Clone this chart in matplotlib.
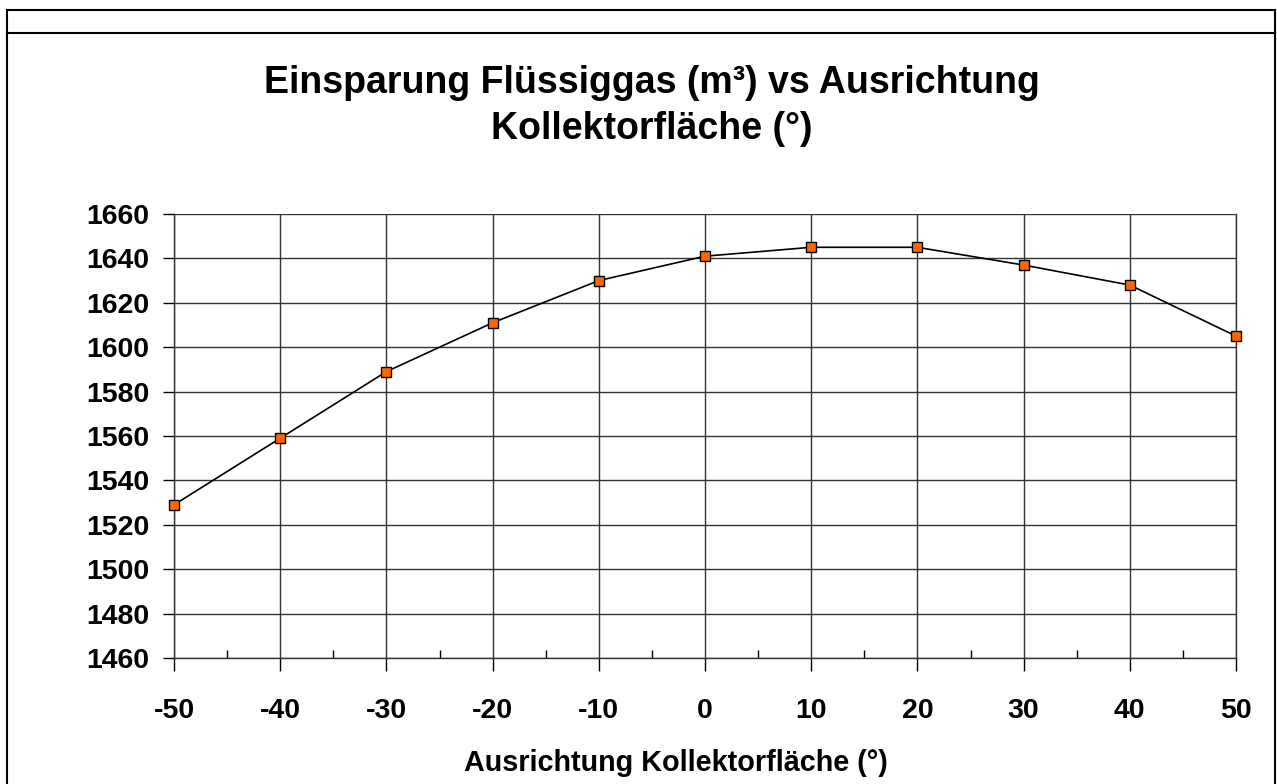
import matplotlib.pyplot as plt
from matplotlib.patches import Rectangle
from matplotlib.lines import Line2D

plt.rcParams['font.family'] = ['Liberation Sans', 'DejaVu Sans']
plt.rcParams['font.weight'] = 'bold'
plt.rcParams['axes.unicode_minus'] = False

# Daten
ausrichtung = [-50, -40, -30, -20, -10, 0, 10, 20, 30, 40, 50]
einsparung = [1529, 1559, 1589, 1611, 1630, 1641, 1645, 1645, 1637, 1628, 1605]
y_ticks = list(range(1460, 1661, 20))
x_ticks = list(range(-50, 51, 10))
x_minor = list(range(-45, 50, 10))

fig = plt.figure(figsize=(12.77, 7.84), dpi=100)

# Rahmen um das Diagramm
W, H = 1277, 784
fig.patches.append(Rectangle((7 / W, -0.05), 1268 / W, 1.05 - 10 / H,
                             transform=fig.transFigure, fill=False,
                             edgecolor='black', linewidth=1.5))
fig.lines.append(Line2D([7 / W, 1275 / W], [1 - 33 / H, 1 - 33 / H],
                        transform=fig.transFigure, color='black', linewidth=1.5))

ax = fig.add_axes([174 / W, 1 - 658 / H, (1236 - 174) / W, (658 - 214) / H])

ax.plot(ausrichtung, einsparung, color='black', linewidth=1.2,
        marker='s', markersize=7, markerfacecolor='#FF6600',
        markeredgecolor='black', markeredgewidth=1, zorder=3, clip_on=False)

ax.set_xlim(-50, 50)
ax.set_ylim(1460, 1660)
ax.set_xticks(x_ticks)
ax.set_xticks(x_minor, minor=True)
ax.set_yticks(y_ticks)
ax.grid(True, which='major', color='#333333', linewidth=1)

for s in ['top', 'left', 'right', 'bottom']:
    ax.spines[s].set_color('#333333')
    ax.spines[s].set_linewidth(1)
ax.spines['top'].set_visible(False)

ax.tick_params(axis='x', which='major', direction='out', length=9, width=1,
               labelsize=20.5, pad=20)
ax.tick_params(axis='x', which='minor', direction='in', length=6, width=1)
ax.tick_params(axis='y', which='major', direction='out', length=8, width=1,
               labelsize=20.5, pad=10)
for lbl in ax.get_xticklabels() + ax.get_yticklabels():
    lbl.set_fontweight('bold')

# Achsentitel und Diagrammtitel
fig.text(676 / W, 1 - 763 / H, 'Ausrichtung Kollektorfläche (°)', fontsize=20.7,
         fontweight='bold', ha='center', va='center')
fig.text(652 / W, 1 - 106 / H, 'Einsparung Flüssiggas (m³) vs Ausrichtung\nKollektorfläche (°)',
         ha='center', va='center', fontsize=27, fontweight='bold', linespacing=1.35)

plt.savefig('out.png', dpi=100)
